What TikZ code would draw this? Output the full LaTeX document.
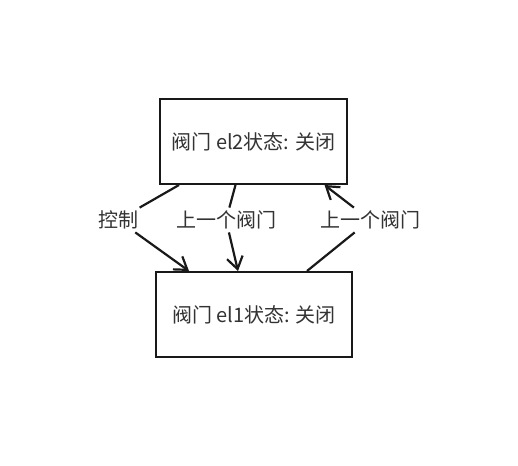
\documentclass[tikz,border=0pt]{standalone}
\usepackage{fontspec}
\newfontfamily\cjk{Noto Sans CJK SC}
\usetikzlibrary{arrows.meta}
\tikzset{
  valve/.style={draw=black!90, line width=2pt, minimum height=85pt, text=black!80, font=\cjk\fontsize{20}{24}\selectfont},
  lbl/.style={text=black!80, font=\cjk\fontsize{20}{24}\selectfont, inner sep=3pt},
  link/.style={line width=2.2pt, draw=black!90, -{Straight Barb[length=12pt,width=16pt,line width=2.2pt]}}
}
\begin{document}
\begin{tikzpicture}[x=1pt,y=-1pt]
  \useasboundingbox (0,0) rectangle (518,465);
  \node[valve, minimum width=187pt] (el2) at (253.5,141.5) {阀门 el2状态: 关闭};
  \node[valve, minimum width=196pt] (el1) at (254,314.5) {阀门 el1状态: 关闭};
  \node[lbl] (ctl) at (118,220) {控制};
  \node[lbl] (prev1) at (226,220) {上一个阀门};
  \node[lbl] (prev2) at (370,220) {上一个阀门};
  % edges through labels
  \draw[link] ([xshift=20pt]el2.south west) -- (ctl) -- ([xshift=34pt]el1.north west);
  \draw[link] ([xshift=-18pt]el2.south) -- (prev1) -- ([xshift=-16pt]el1.north);
  \draw[link] ([xshift=53pt]el1.north) -- (prev2) -- ([xshift=71pt]el2.south);
\end{tikzpicture}
\end{document}
